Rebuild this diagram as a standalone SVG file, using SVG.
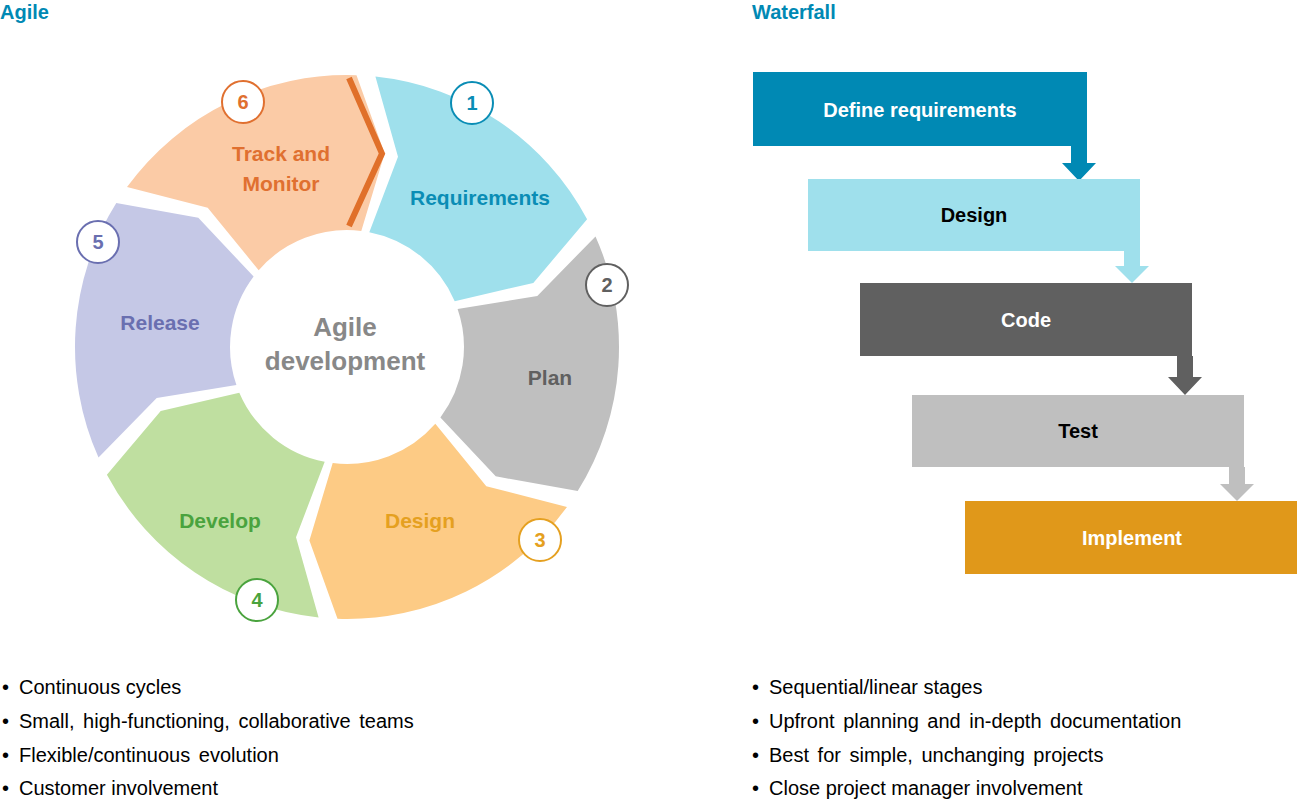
<svg xmlns="http://www.w3.org/2000/svg" width="1300" height="802" viewBox="0 0 1300 802">
<style>
text{font-family:"Liberation Sans",Arial,sans-serif}
.t{font-size:20px;font-weight:bold;fill:#0089B4}
.lb{font-size:21px;font-weight:bold;text-anchor:middle}
.num{font-size:20px;font-weight:bold;text-anchor:middle}
.nc{fill:#fff;stroke-width:2}
.bx{font-size:20px;font-weight:bold;text-anchor:middle}
.bl{font-size:20px;fill:#000}
</style>
<rect width="1300" height="802" fill="#fff"/>
<text class="t" x="0" y="19">Agile</text>
<text class="t" x="752" y="19">Waterfall</text>

<g id="seg-requirements">
<path d="M375.4,76.5 A272,272 0 0 1 587.1,219.3 L533.3,282.9 L454.7,301.3 A117,117 0 0 0 369.3,232.2 L398,156.7 Z" fill="#9FE0EC"/>
<text class="lb" x="480" y="205" fill="#0A8DB5">Requirements</text>
<circle class="nc" cx="472" cy="103" r="21" stroke="#0A8DB5"/><text class="num" x="472" y="110" fill="#0A8DB5">1</text>
</g>
<g id="seg-plan">
<path d="M595.5,236.4 A272,272 0 0 1 577.7,491.1 L495.7,476.3 L440.4,417.4 A117,117 0 0 0 457.6,308.9 L537.3,296 Z" fill="#BFBFBF"/>
<text class="lb" x="550" y="385" fill="#606060">Plan</text>
<circle class="nc" cx="607" cy="285" r="21" stroke="#606060"/><text class="num" x="607" y="292" fill="#606060">2</text>
</g>
<g id="seg-design">
<path d="M567,506.9 A272,272 0 0 1 337.5,618.8 L309.4,540.4 L332.7,463.1 A117,117 0 0 0 435.3,423.8 L486.3,486.3 Z" fill="#FDCB85"/>
<text class="lb" x="420" y="528" fill="#E5A020">Design</text>
<circle class="nc" cx="540" cy="540" r="21" stroke="#E5A020"/><text class="num" x="540" y="547" fill="#E5A020">3</text>
</g>
<g id="seg-develop">
<path d="M318.6,617.5 A272,272 0 0 1 106.9,474.7 L160.7,411.1 L239.3,392.7 A117,117 0 0 0 324.7,461.8 L296,537.3 Z" fill="#BFDFA0"/>
<text class="lb" x="220" y="528" fill="#4AA33E">Develop</text>
<circle class="nc" cx="257" cy="600" r="21" stroke="#4AA33E"/><text class="num" x="257" y="607" fill="#4AA33E">4</text>
</g>
<g id="seg-release">
<path d="M98.5,457.6 A272,272 0 0 1 116.3,202.9 L198.3,217.7 L253.6,276.6 A117,117 0 0 0 236.4,385.1 L156.7,398 Z" fill="#C5C8E6"/>
<text class="lb" x="160" y="330" fill="#6A6FB0">Release</text>
<circle class="nc" cx="98" cy="242" r="21" stroke="#6A6FB0"/><text class="num" x="98" y="249" fill="#6A6FB0">5</text>
</g>
<g id="seg-track">
<path d="M127,187.1 A272,272 0 0 1 356.5,75.2 L384.6,153.6 L361.3,230.9 A117,117 0 0 0 258.7,270.2 L207.7,207.7 Z" fill="#FBCBA6"/>
<polyline points="349,78 382,153.6 349,226" fill="none" stroke="#E0702A" stroke-width="6"/>
<text class="lb" x="281" y="161" fill="#E07030">Track and</text>
<text class="lb" x="281" y="191" fill="#E07030">Monitor</text>
<circle class="nc" cx="243" cy="102" r="21" stroke="#E07030"/><text class="num" x="243" y="109" fill="#E07030">6</text>
</g>
<g id="center">
<text x="345" y="336" font-size="26" font-weight="bold" fill="#888" text-anchor="middle">Agile</text>
<text x="345" y="370" font-size="26" font-weight="bold" fill="#888" text-anchor="middle">development</text>
</g>

<g id="connectors">
<path d="M1071,146 h16 v17 h9 l-17,18 l-17,-18 h9 Z" fill="#0089B4"/>
<path d="M1124,251 h16 v15 h9 l-17,17 l-17,-17 h9 Z" fill="#9FE0EC"/>
<path d="M1177,356 h16 v21 h9 l-17,18 l-17,-18 h9 Z" fill="#606060"/>
<path d="M1229,467 h16 v17 h9 l-17,17 l-17,-17 h9 Z" fill="#BFBFBF"/>
</g>
<g id="wf-define"><rect x="753" y="72" width="334" height="74" fill="#0089B4"/><text class="bx" x="920" y="117" fill="#fff">Define requirements</text></g>
<g id="wf-design"><rect x="808" y="179" width="332" height="72" fill="#9FE0EC"/><text class="bx" x="974" y="222" fill="#000">Design</text></g>
<g id="wf-code"><rect x="860" y="283" width="332" height="73" fill="#606060"/><text class="bx" x="1026" y="327" fill="#fff">Code</text></g>
<g id="wf-test"><rect x="912" y="395" width="332" height="72" fill="#BFBFBF"/><text class="bx" x="1078" y="438" fill="#000">Test</text></g>
<g id="wf-implement"><rect x="965" y="501" width="332" height="73" fill="#E0981A"/><text class="bx" x="1132" y="545" fill="#fff">Implement</text></g>

<g id="agile-bullets">
<text class="bl" x="2" y="694">•</text><text class="bl" x="19" y="694">Continuous cycles</text>
<text class="bl" x="2" y="728">•</text><text class="bl" x="19" y="728" word-spacing="3">Small, high-functioning, collaborative teams</text>
<text class="bl" x="2" y="762">•</text><text class="bl" x="19" y="762" word-spacing="3">Flexible/continuous evolution</text>
<text class="bl" x="2" y="795">•</text><text class="bl" x="19" y="795">Customer involvement</text>
</g>
<g id="waterfall-bullets">
<text class="bl" x="752" y="694">•</text><text class="bl" x="769" y="694">Sequential/linear stages</text>
<text class="bl" x="752" y="728">•</text><text class="bl" x="769" y="728" word-spacing="3">Upfront planning and in-depth documentation</text>
<text class="bl" x="752" y="762">•</text><text class="bl" x="769" y="762" word-spacing="3">Best for simple, unchanging projects</text>
<text class="bl" x="752" y="795">•</text><text class="bl" x="769" y="795">Close project manager involvement</text>
</g>
</svg>
